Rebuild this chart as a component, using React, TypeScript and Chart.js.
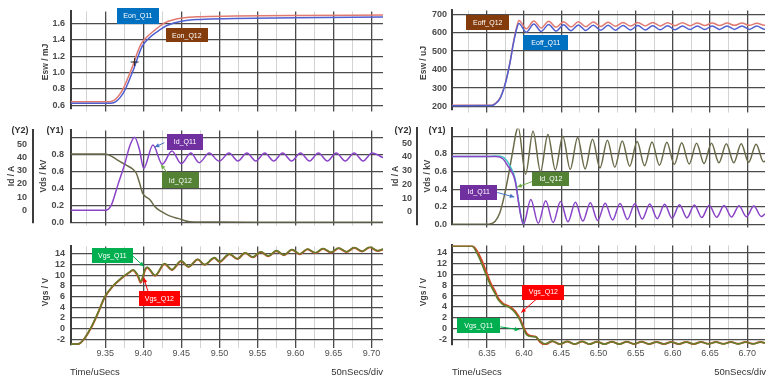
import React, { useEffect, useRef } from "react";
import { Chart, registerables } from "chart.js";

Chart.register(...registerables);

// ---------------- DATA ----------------
// Left column: turn-on (time in µs)
const eonQ12T = [9.305, 9.356, 9.362, 9.368, 9.374, 9.38, 9.386, 9.392, 9.397, 9.404, 9.415, 9.428, 9.445, 9.47, 9.52, 9.6, 9.715];
const eonQ12V = [0.643, 0.645, 0.665, 0.72, 0.81, 0.94, 1.08, 1.24, 1.35, 1.43, 1.52, 1.61, 1.66, 1.683, 1.693, 1.7, 1.705];
const eonQ11T = [9.305, 9.358, 9.364, 9.37, 9.376, 9.382, 9.388, 9.394, 9.399, 9.406, 9.418, 9.432, 9.45, 9.475, 9.52, 9.6, 9.715];
const eonQ11V = [0.625, 0.627, 0.645, 0.7, 0.79, 0.92, 1.06, 1.22, 1.33, 1.41, 1.5, 1.58, 1.63, 1.652, 1.662, 1.672, 1.68];
const eonMarkT = [9.3886];
const eonMarkV = [1.13];

const idOnT = [9.305, 9.35, 9.358, 9.3667, 9.3755, 9.382, 9.3886, 9.395, 9.4005, 9.4127, 9.425, 9.4375, 9.45, 9.4625, 9.4735, 9.4866, 9.4997, 9.5126, 9.5244, 9.5361, 9.5479, 9.5596, 9.5714, 9.5831, 9.5949, 9.6066, 9.6184, 9.6301, 9.6419, 9.6536, 9.6654, 9.6771, 9.6889, 9.7006, 9.715];
const idOnV = [0, 0, 4, 19.5, 35, 48.5, 55.5, 46, 31.8, 49.5, 35, 45, 35.5, 43.5, 36.2, 43.5, 37.3, 43.5, 37.5, 43.5, 37.5, 43.5, 37.5, 43.5, 37.5, 43.5, 37.5, 43.5, 37.5, 43.5, 37.5, 43.5, 37.5, 43.5, 40];
const vdsOnT = [9.305, 9.35, 9.358, 9.3667, 9.377, 9.3864, 9.391, 9.395, 9.3995, 9.404, 9.4087, 9.415, 9.4218, 9.4297, 9.4375, 9.4454, 9.452, 9.461, 9.475, 9.5, 9.6, 9.715];
const vdsOnV = [0.81, 0.81, 0.785, 0.735, 0.68, 0.63, 0.58, 0.47, 0.34, 0.3, 0.27, 0.19, 0.14, 0.1, 0.07, 0.05, 0.03, 0.01, 0.006, 0.006, 0.005, 0.005];

const vgsOnT = [9.305, 9.314, 9.318, 9.323, 9.3316, 9.3404, 9.3492, 9.3601, 9.371, 9.382, 9.3864, 9.3929, 9.3965, 9.4025, 9.4051, 9.4156, 9.428, 9.4375, 9.4497, 9.4594, 9.4717, 9.4804, 9.4936, 9.5001, 9.5133, 9.5235, 9.5338, 9.544, 9.5543, 9.5645, 9.5748, 9.585, 9.5953, 9.6055, 9.6158, 9.626, 9.6363, 9.6465, 9.6568, 9.667, 9.6773, 9.6875, 9.6978, 9.708, 9.715];
const vgsOnQ11V = [-2.9, -2.88, -2.6, -1.77, 0.3, 2.96, 5.9, 8.0, 9.45, 10.6, 11.0, 10.0, 8.85, 11.2, 11.5, 10.0, 12.2, 11.05, 12.7, 11.6, 13.0, 12.0, 13.3, 12.55, 14.0, 13.1, 14.2, 13.4, 14.4, 13.6, 14.6, 13.8, 14.8, 14.0, 14.9, 14.2, 15.0, 14.3, 15.1, 14.4, 15.2, 14.5, 15.3, 14.6, 14.9];
const vgsOnQ12V = [-2.9, -2.88, -2.6, -1.8, 0.2, 2.9, 5.85, 7.95, 9.4, 10.55, 10.95, 9.8, 8.6, 11.0, 11.4, 9.9, 12.1, 11.0, 12.6, 11.55, 12.95, 11.95, 13.25, 12.5, 13.95, 13.05, 14.15, 13.35, 14.35, 13.55, 14.55, 13.75, 14.75, 13.95, 14.85, 14.15, 14.95, 14.25, 15.05, 14.35, 15.15, 14.45, 15.25, 14.55, 14.85];

// Right column: turn-off (time in µs)
const eoffT = [6.303, 6.356, 6.3608, 6.3675, 6.3743, 6.381, 6.3854, 6.3899, 6.393, 6.403, 6.413, 6.423, 6.433, 6.443, 6.453, 6.463, 6.473, 6.483, 6.493, 6.503, 6.513, 6.523, 6.533, 6.543, 6.553, 6.563, 6.573, 6.583, 6.593, 6.603, 6.613, 6.623, 6.633, 6.643, 6.653, 6.663, 6.673, 6.683, 6.693, 6.703, 6.713, 6.723, 6.724];
const eoffQ12V = [206, 207, 215, 245, 321, 441, 543, 629, 666, 622, 664, 626, 662, 629, 660, 631, 659, 633, 658, 634, 657, 635, 656, 636, 655, 637, 655, 637, 654, 638, 654, 638, 653, 639, 653, 639, 652, 640, 652, 640, 651, 641, 641];
const eoffQ11V = [204, 205, 213, 243, 318, 437, 537, 620, 650, 603, 647, 607, 645, 609, 643, 611, 642, 612, 641, 613, 640, 614, 639, 615, 639, 615, 638, 616, 638, 616, 637, 617, 637, 617, 637, 618, 636, 618, 636, 618, 636, 619, 619];

const vdsOffT = [6.303, 6.352, 6.3608, 6.3675, 6.372, 6.3764, 6.381, 6.3854, 6.3891, 6.392, 6.402, 6.412, 6.422, 6.432, 6.442, 6.452, 6.462, 6.472, 6.482, 6.492, 6.502, 6.512, 6.522, 6.532, 6.542, 6.552, 6.562, 6.572, 6.582, 6.592, 6.602, 6.612, 6.622, 6.632, 6.642, 6.652, 6.662, 6.672, 6.682, 6.692, 6.702, 6.712, 6.722, 6.724];
const vdsOffV = [0.005, 0.005, 0.034, 0.138, 0.277, 0.449, 0.656, 0.863, 1.036, 1.1, 0.57, 1.055, 0.6, 1.02, 0.62, 1.0, 0.625, 0.985, 0.63, 0.965, 0.64, 0.955, 0.65, 0.945, 0.66, 0.94, 0.665, 0.935, 0.67, 0.93, 0.68, 0.925, 0.685, 0.92, 0.69, 0.92, 0.7, 0.915, 0.7, 0.915, 0.705, 0.91, 0.71, 0.72];

const idOffQ11T = [6.303, 6.362, 6.3717, 6.3785, 6.383, 6.3866, 6.389, 6.392, 6.3955, 6.399, 6.409, 6.419, 6.429, 6.439, 6.449, 6.459, 6.469, 6.479, 6.489, 6.499, 6.509, 6.519, 6.529, 6.539, 6.549, 6.559, 6.569, 6.579, 6.589, 6.599, 6.609, 6.619, 6.629, 6.639, 6.649, 6.659, 6.669, 6.679, 6.689, 6.699, 6.709, 6.719, 6.724];
const idOffQ11V = [40.2, 40.2, 38.4, 33, 29.5, 25, 19.5, 8.5, -2.7, -9.2, 8.9, -8.4, 8.0, -7.8, 7.4, -7.3, 6.9, -6.8, 6.5, -6.4, 6.2, -6.0, 6.0, -5.6, 5.8, -5.3, 5.6, -5.0, 5.4, -4.7, 5.2, -4.4, 5.0, -4.2, 4.8, -4.0, 4.6, -3.8, 4.4, -3.6, 4.2, -3.5, -1.5];
const idOffQ12T = [6.303, 6.352, 6.362, 6.3717, 6.3785, 6.383, 6.3866, 6.389, 6.392, 6.3955, 6.399];
const idOffQ12V = [40.2, 40.2, 40.6, 39.8, 35.8, 31.2, 26.5, 21.0, 9.5, -2.2, -9.2];

const vgsOffT = [6.303, 6.33, 6.336, 6.3427, 6.3495, 6.354, 6.3608, 6.3652, 6.372, 6.381, 6.3877, 6.3945, 6.399, 6.4034, 6.4093, 6.4155, 6.4214, 6.428, 6.438, 6.448, 6.458, 6.468, 6.478, 6.488, 6.498, 6.508, 6.518, 6.528, 6.538, 6.548, 6.558, 6.568, 6.578, 6.588, 6.598, 6.608, 6.618, 6.628, 6.638, 6.648, 6.658, 6.668, 6.678, 6.688, 6.698, 6.708, 6.718, 6.724];
const vgsOffQ11V = [15.3, 15.3, 14.1, 12.1, 9.7, 8.25, 6.5, 5.3, 4.4, 3.84, 2.96, 1.5, 0, -1.17, -1.47, -1.55, -2.35, -2.85, -2.35, -2.9, -2.4, -2.9, -2.4, -2.9, -2.45, -2.9, -2.45, -2.9, -2.45, -2.88, -2.45, -2.88, -2.5, -2.88, -2.5, -2.88, -2.5, -2.88, -2.5, -2.85, -2.5, -2.85, -2.5, -2.85, -2.5, -2.85, -2.5, -2.7];
const vgsOffQ12V = [15.3, 15.3, 14.5, 12.7, 10.3, 8.7, 6.9, 5.6, 4.6, 4.0, 3.2, 1.8, 0.3, -0.9, -1.4, -1.5, -2.5, -3.0, -2.35, -2.9, -2.4, -2.9, -2.4, -2.9, -2.45, -2.9, -2.45, -2.9, -2.45, -2.88, -2.45, -2.88, -2.5, -2.88, -2.5, -2.88, -2.5, -2.88, -2.5, -2.85, -2.5, -2.85, -2.5, -2.85, -2.5, -2.85, -2.5, -2.7];

// tick values
const eonTicks = [0.6, 0.8, 1.0, 1.2, 1.4, 1.6];
const eoffTicks = [200, 300, 400, 500, 600, 700];
const vdsTicks = [0, 0.2, 0.4, 0.6, 0.8, 1.0];
const idTicks = [0, 10, 20, 30, 40, 50];
const vgsTicks = [-2, 0, 2, 4, 6, 8, 10, 12, 14];

// ---------------- STYLE ----------------
const FONT = "'Liberation Sans', Arial, sans-serif";
const MAJOR = "#4b4b4b";
const MINOR = "#d3d3d3";
const C_RED = "#e07a70";
const C_BLUE = "#5060d0";
const C_PURPLE = "#8a44c8";
const C_OLIVE = "#6b6b4a";
const C_CYAN = "#40c4c4";
const C_VGS_G = "#62802c";
const C_VGS_R = "#d8452a";

const isMajor = (v: number) => Math.abs(v * 20 - Math.round(v * 20)) < 1e-6;

type Callout = {
  text: string; bg: string; x: number; y: number; w: number; h: number;
  axis?: string; arrow?: [number, number, number, number]; arrowColor?: string;
};

const calloutPlugin = {
  id: "callouts",
  afterDatasetsDraw(chart: any, _a: any, opts: any) {
    const items: Callout[] = (opts && opts.items) || [];
    const ctx = chart.ctx;
    const xs = chart.scales.x;
    ctx.save();
    for (const it of items) {
      const ys = chart.scales[it.axis || "y"];
      if (it.arrow) {
        const x1 = xs.getPixelForValue(it.arrow[0]);
        const y1 = ys.getPixelForValue(it.arrow[1]);
        const x2 = xs.getPixelForValue(it.arrow[2]);
        const y2 = ys.getPixelForValue(it.arrow[3]);
        ctx.strokeStyle = it.arrowColor;
        ctx.fillStyle = it.arrowColor;
        ctx.lineWidth = 1;
        ctx.beginPath();
        ctx.moveTo(x1, y1);
        ctx.lineTo(x2, y2);
        ctx.stroke();
        const a = Math.atan2(y2 - y1, x2 - x1);
        ctx.beginPath();
        ctx.moveTo(x2, y2);
        ctx.lineTo(x2 - 5 * Math.cos(a - 0.45), y2 - 5 * Math.sin(a - 0.45));
        ctx.lineTo(x2 - 5 * Math.cos(a + 0.45), y2 - 5 * Math.sin(a + 0.45));
        ctx.closePath();
        ctx.fill();
      }
      const cx = xs.getPixelForValue(it.x);
      const cy = ys.getPixelForValue(it.y);
      ctx.fillStyle = it.bg;
      ctx.fillRect(Math.round(cx - it.w / 2), Math.round(cy - it.h / 2), it.w, it.h);
      ctx.fillStyle = "#ffffff";
      ctx.font = `7px ${FONT}`;
      ctx.textAlign = "center";
      ctx.textBaseline = "middle";
      ctx.fillText(it.text, cx, cy + 0.5);
    }
    ctx.restore();
  },
};

type Line = { t: number[]; v: number[]; color: string; width?: number; axis?: string; order: number; marker?: boolean };
type YAxis = { id: string; min: number; max: number; ticks: number[]; width: number; weight: number; grid: boolean; fmt: (v: number) => string; pad: number };
type Panel = {
  key: string; left: number; top: number; w: number; h: number; padTop: number; padRight: number;
  xMin: number; xMax: number; xLabels: boolean; xH: number; yAxes: YAxis[]; lines: Line[]; callouts: Callout[];
};

function buildConfig(p: Panel): any {
  const scales: any = {
    x: {
      type: "linear",
      min: p.xMin,
      max: p.xMax,
      afterBuildTicks: (s: any) => {
        const out: any[] = [];
        for (let k = Math.ceil(p.xMin * 40 - 1e-9); k / 40 <= p.xMax + 1e-9; k++) out.push({ value: k / 40 });
        s.ticks = out;
      },
      afterFit: (s: any) => { s.height = p.xH; },
      grid: {
        color: (c: any) => (c.tick && isMajor(c.tick.value) ? MAJOR : MINOR),
        lineWidth: (c: any) => (c.tick && isMajor(c.tick.value) ? 1.3 : 1),
        tickLength: 3,
        drawTicks: true,
      },
      border: { display: false },
      ticks: {
        display: p.xLabels,
        autoSkip: false,
        maxRotation: 0,
        padding: 0,
        color: "#505050",
        font: { size: 9, family: FONT },
        callback: (v: number) => (isMajor(v) ? v.toFixed(2) : ""),
      },
    },
  };
  for (const y of p.yAxes) {
    scales[y.id] = {
      type: "linear",
      position: "left",
      min: y.min,
      max: y.max,
      weight: y.weight,
      afterBuildTicks: (s: any) => { s.ticks = y.ticks.map((v) => ({ value: v })); },
      afterFit: (s: any) => { s.width = y.width; },
      grid: { display: true, drawOnChartArea: y.grid, drawTicks: false, color: MAJOR, lineWidth: 1.3 },
      border: { display: true, color: "#3c3c3c", width: 2 },
      ticks: {
        autoSkip: false,
        padding: y.pad,
        color: "#4a4a4a",
        font: { size: 9, family: FONT, weight: "bold" },
        callback: (v: number) => y.fmt(v),
      },
    };
  }
  return {
    type: "line",
    data: {
      datasets: p.lines.map((l) => ({
        data: l.t.map((t, i) => ({ x: t, y: l.v[i] })),
        borderColor: l.color,
        backgroundColor: l.color,
        borderWidth: l.width ?? 1.5,
        showLine: !l.marker,
        pointRadius: l.marker ? 4 : 0,
        pointStyle: l.marker ? "cross" : "circle",
        pointBorderWidth: 1,
        cubicInterpolationMode: "monotone",
        yAxisID: l.axis || "y",
        order: l.order,
        fill: false,
      })),
    },
    options: {
      responsive: false,
      maintainAspectRatio: false,
      animation: false,
      events: [],
      layout: { padding: { top: p.padTop, right: p.padRight, bottom: 0, left: 0 } },
      plugins: { legend: { display: false }, tooltip: { enabled: false }, callouts: { items: p.callouts } },
      scales,
    },
    plugins: [calloutPlugin],
  };
}

const f1 = (v: number) => v.toFixed(1);
const fInt = (v: number) => String(Math.round(v));
const fVds = (v: number) => (v > 0.95 ? "" : v.toFixed(1));

const LX = { xMin: 9.305, xMax: 9.715 };
const RX = { xMin: 6.303, xMax: 6.724 };

const panels: Panel[] = [
  {
    key: "lt", left: 0, top: 0, w: 390, h: 120, padTop: 10, padRight: 7, ...LX, xLabels: false, xH: 5,
    yAxes: [{ id: "y", min: 0.56, max: 1.75, ticks: eonTicks, width: 71, weight: 0, grid: true, fmt: f1, pad: 6 }],
    lines: [
      { t: eonMarkT, v: eonMarkV, color: "#222", order: 0, marker: true },
      { t: eonQ11T, v: eonQ11V, color: C_BLUE, order: 1 },
      { t: eonQ12T, v: eonQ12V, color: C_RED, order: 2 },
    ],
    callouts: [
      { text: "Eon_Q11", bg: "#0070c0", x: 9.3929, y: 1.693, w: 42, h: 16 },
      { text: "Eon_Q12", bg: "#843c0c", x: 9.4572, y: 1.455, w: 42, h: 14 },
    ],
  },
  {
    key: "lm", left: 0, top: 118, w: 390, h: 117, padTop: 7, padRight: 7, ...LX, xLabels: false, xH: 5,
    yAxes: [
      { id: "y", min: 0, max: 1.088, ticks: vdsTicks, width: 38, weight: 0, grid: true, fmt: fVds, pad: 7 },
      { id: "y2", min: -9.33, max: 60.67, ticks: idTicks, width: 33, weight: 1, grid: false, fmt: fInt, pad: 6 },
    ],
    lines: [
      { t: idOnT, v: idOnV, color: C_PURPLE, axis: "y2", order: 1 },
      { t: vdsOnT, v: vdsOnV, color: C_OLIVE, axis: "y", order: 2 },
    ],
    callouts: [
      { text: "Id_Q11", bg: "#7030a0", x: 9.4549, y: 0.953, w: 36, h: 16, arrow: [9.4276, 0.943, 9.4152, 0.891], arrowColor: "#4472c4" },
      { text: "Id_Q12", bg: "#548235", x: 9.4487, y: 0.497, w: 37, h: 16, arrow: [9.4323, 0.58, 9.4231, 0.684], arrowColor: "#70ad47" },
    ],
  },
  {
    key: "lb", left: 0, top: 235, w: 390, h: 127, padTop: 6, padRight: 7, ...LX, xLabels: true, xH: 17,
    yAxes: [{ id: "y", min: -3.06, max: 15.4, ticks: vgsTicks, width: 71, weight: 0, grid: true, fmt: fInt, pad: 6 }],
    lines: [
      { t: vgsOnT, v: vgsOnQ11V, color: C_VGS_G, order: 1, width: 1.6 },
      { t: vgsOnT, v: vgsOnQ12V, color: C_VGS_R, order: 2, width: 2.0 },
    ],
    callouts: [
      { text: "Vgs_Q11", bg: "#00b050", x: 9.3594, y: 13.66, w: 41, h: 15, arrow: [9.3864, 13.57, 9.4008, 11.63], arrowColor: "#00b050" },
      { text: "Vgs_Q12", bg: "#ff0000", x: 9.4211, y: 5.7, w: 41, h: 15, arrow: [9.406, 7.03, 9.4008, 9.5], arrowColor: "#ff0000" },
    ],
  },
  {
    key: "rt", left: 385, top: 0, w: 389, h: 120, padTop: 10, padRight: 9, ...RX, xLabels: false, xH: 5,
    yAxes: [{ id: "y", min: 183, max: 721, ticks: eoffTicks, width: 67, weight: 0, grid: true, fmt: fInt, pad: 5 }],
    lines: [
      { t: eoffT, v: eoffQ11V, color: C_BLUE, order: 1 },
      { t: eoffT, v: eoffQ12V, color: C_RED, order: 2 },
    ],
    callouts: [
      { text: "Eoff_Q12", bg: "#843c0c", x: 6.3511, y: 657.4, w: 43, h: 15 },
      { text: "Eoff_Q11", bg: "#0070c0", x: 6.4292, y: 544.6, w: 45, h: 15 },
    ],
  },
  {
    key: "rm", left: 385, top: 118, w: 389, h: 117, padTop: 7, padRight: 9, ...RX, xLabels: false, xH: 5,
    yAxes: [
      { id: "y", min: 0, max: 1.088, ticks: vdsTicks, width: 35, weight: 0, grid: true, fmt: fVds, pad: 5 },
      { id: "y2", min: -9.33, max: 60.67, ticks: idTicks, width: 32, weight: 1, grid: false, fmt: fInt, pad: 5 },
    ],
    lines: [
      { t: idOffQ11T, v: idOffQ11V, color: C_PURPLE, axis: "y2", order: 1 },
      { t: idOffQ12T, v: idOffQ12V, color: C_CYAN, axis: "y2", order: 2 },
      { t: vdsOffT, v: vdsOffV, color: C_OLIVE, axis: "y", order: 3 },
    ],
    callouts: [
      { text: "Id_Q12", bg: "#548235", x: 6.436, y: 0.518, w: 37, h: 14, arrow: [6.4111, 0.487, 6.3908, 0.425], arrowColor: "#70ad47" },
      { text: "Id_Q11", bg: "#7030a0", x: 6.3389, y: 0.368, w: 37, h: 15, arrow: [6.3639, 0.363, 6.3868, 0.311], arrowColor: "#4472c4" },
    ],
  },
  {
    key: "rb", left: 385, top: 235, w: 389, h: 127, padTop: 6, padRight: 9, ...RX, xLabels: true, xH: 17,
    yAxes: [{ id: "y", min: -3.06, max: 15.4, ticks: vgsTicks, width: 67, weight: 0, grid: true, fmt: fInt, pad: 5 }],
    lines: [
      { t: vgsOffT, v: vgsOffQ11V, color: C_VGS_G, order: 1, width: 1.6 },
      { t: vgsOffT, v: vgsOffQ12V, color: C_VGS_R, order: 2, width: 2.0 },
    ],
    callouts: [
      { text: "Vgs_Q12", bg: "#ff0000", x: 6.4259, y: 6.76, w: 42, h: 15, arrow: [6.4164, 5.43, 6.3962, 2.96], arrowColor: "#ff0000" },
      { text: "Vgs_Q11", bg: "#00b050", x: 6.3389, y: 0.566, w: 43, h: 15, arrow: [6.3679, 0.3, 6.3935, -0.23], arrowColor: "#00b050" },
    ],
  },
];

const rotTitles = [
  { text: "Esw / mJ", x: 45, y: 62 },
  { text: "Id / A", x: 11, y: 176 },
  { text: "Vds / kV", x: 43, y: 176 },
  { text: "Vgs / V", x: 45, y: 292 },
  { text: "Esw / uJ", x: 423, y: 63 },
  { text: "Id / A", x: 395, y: 176 },
  { text: "Vds / kV", x: 427, y: 176 },
  { text: "Vgs / V", x: 423, y: 292 },
];
const flatTitles = [
  { text: "(Y2)", x: 20, y: 130 },
  { text: "(Y1)", x: 55, y: 130 },
  { text: "(Y2)", x: 403, y: 130 },
  { text: "(Y1)", x: 437, y: 130 },
];

function PanelChart({ p }: { p: Panel }) {
  const ref = useRef<HTMLCanvasElement>(null);
  useEffect(() => {
    if (!ref.current) return;
    const c = new Chart(ref.current, buildConfig(p));
    return () => c.destroy();
  }, []);
  return (
    <canvas
      ref={ref}
      width={p.w}
      height={p.h}
      style={{ position: "absolute", left: p.left, top: p.top, width: p.w, height: p.h }}
    />
  );
}

export default function App() {
  const footStyle: React.CSSProperties = { position: "absolute", top: 366, font: `9.5px ${FONT}`, color: "#333", whiteSpace: "nowrap" };
  return (
    <div style={{ position: "fixed", left: 0, top: 0, width: 774, height: 382, background: "#fff", overflow: "hidden" }}>
      {panels.map((p) => (
        <PanelChart key={p.key} p={p} />
      ))}
      {rotTitles.map((t, i) => (
        <div
          key={"r" + i}
          style={{
            position: "absolute", left: t.x, top: t.y, transform: "translate(-50%,-50%) rotate(-90deg)",
            font: `bold 8.5px ${FONT}`, color: "#404040", whiteSpace: "nowrap",
          }}
        >
          {t.text}
        </div>
      ))}
      {flatTitles.map((t, i) => (
        <div
          key={"f" + i}
          style={{
            position: "absolute", left: t.x, top: t.y, transform: "translate(-50%,-50%)",
            font: `bold 9px ${FONT}`, color: "#303030", whiteSpace: "nowrap",
          }}
        >
          {t.text}
        </div>
      ))}
      <div style={{ ...footStyle, left: 70 }}>Time/uSecs</div>
      <div style={{ ...footStyle, right: 391 }}>50nSecs/div</div>
      <div style={{ ...footStyle, left: 452 }}>Time/uSecs</div>
      <div style={{ ...footStyle, right: 8 }}>50nSecs/div</div>
    </div>
  );
}
